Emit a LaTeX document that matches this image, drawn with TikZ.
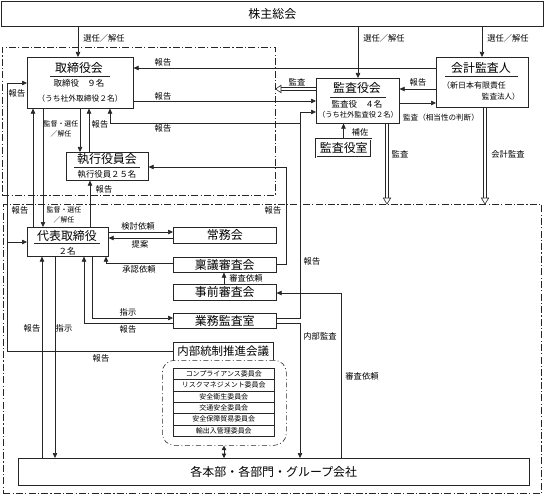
\documentclass[tikz,border=0pt]{standalone}
\usepackage{fontspec}
\setmainfont{Noto Sans CJK JP}
\usetikzlibrary{arrows.meta,calc}
\begin{document}
\begin{tikzpicture}[x=1bp,y=-1bp,
  ln/.style={draw=black!85, line width=0.6bp},
  box/.style={ln, fill=white, inner sep=0, anchor=north west},
  ddbox/.style={draw=black!85, line width=0.6bp, dash pattern=on 7bp off 2.2bp on 1.2bp off 2.2bp, inner sep=0, anchor=north west},
  arr/.style={ln, -{Triangle[length=5bp,width=4.5bp]}},
  darr/.style={ln, {Triangle[length=4.5bp,width=4.5bp]}-{Triangle[length=4.5bp,width=4.5bp]}},
  tipst/.style={ln, fill=white},
  ttl/.style={inner sep=0, font=\fontsize{12}{14}\selectfont},
  sub/.style={inner sep=0, font=\fontsize{8.5}{10}\selectfont},
  lbl/.style={inner sep=0, font=\fontsize{8.3}{10}\selectfont},
  slbl/.style={inner sep=0, align=center, font=\fontsize{7}{10}\selectfont},
  com/.style={box, minimum width=101bp, minimum height=11.33bp, font=\fontsize{7}{8}\selectfont}
]
\useasboundingbox (0,0) rectangle (544,496);

% dash-dot regions
\node[ddbox, minimum width=273bp, minimum height=148bp] (upper) at (2,47) {};
\node[ddbox, minimum width=538bp, minimum height=289bp] (lower) at (3,204) {};

% boxes
\node[box, minimum width=542bp, minimum height=25bp, font=\fontsize{12}{14}\selectfont] (soukai) at (1,1) {株主総会};
\node[box, minimum width=106bp, minimum height=51bp] (tb) at (27,57) {};
\node[ttl] (tbT) at (79,68) {取締役会};
\draw[ln] (50,76) -- (110,76);
\node[sub] (tbS1) at (79,83) {取締役　９名};
\node[inner sep=0, font=\fontsize{7.8}{9}\selectfont] (tbS2) at (80,99) {（うち社外取締役２名）};

\node[box, minimum width=82bp, minimum height=28bp] (sk) at (66,152) {};
\node[ttl] (skT) at (107,159) {執行役員会};
\draw[ln] (74,167.5) -- (140,167.5);
\node[inner sep=0, font=\fontsize{8.4}{10}\selectfont] (skS) at (107,174) {執行役員２５名};

\node[box, minimum width=83bp, minimum height=45bp] (kb) at (316,78) {};
\node[ttl] (kbT) at (357,88) {監査役会};
\draw[ln] (330,97) -- (386,97);
\node[sub] (kbS1) at (357,104) {監査役　４名};
\node[inner sep=0, font=\fontsize{7.3}{9}\selectfont] (kbS2) at (358,115) {（うち社外監査役２名）};

\node[box, minimum width=92bp, minimum height=50bp] (ka) at (436,57) {};
\node[ttl] (kaT) at (481,68) {会計監査人};
\draw[ln] (445,76) -- (518,76);
\node[inner sep=0, anchor=west, font=\fontsize{8}{9}\selectfont] (kaS1) at (442,85) {（新日本有限責任};
\node[inner sep=0, anchor=east, font=\fontsize{7.6}{9}\selectfont] (kaS2) at (520,97) {監査法人）};

\node[box, minimum width=55bp, minimum height=18bp, double=white, double distance=0.8bp, line width=0.5bp, font=\fontsize{12}{14}\selectfont] (ks) at (316,139) {監査役室};

\node[box, minimum width=81bp, minimum height=29bp] (dh) at (27,227) {};
\node[ttl] (dhT) at (67,236) {代表取締役};
\draw[ln] (34,243) -- (100,243);
\node[sub] (dhS) at (67,251) {２名};

\node[box, minimum width=103bp, minimum height=16bp, font=\fontsize{12}{14}\selectfont] (jm) at (173,227) {常務会};
\node[box, minimum width=103bp, minimum height=15bp, font=\fontsize{12}{14}\selectfont] (rg) at (173,257) {稟議審査会};
\node[box, minimum width=103bp, minimum height=16bp, font=\fontsize{12}{14}\selectfont] (jz) at (173,284) {事前審査会};
\node[box, minimum width=103bp, minimum height=15bp, font=\fontsize{12}{14}\selectfont] (gm) at (173,313) {業務監査室};

% internal control group
\node[draw=black!85, line width=0.6bp, dash pattern=on 5bp off 2.5bp on 1bp off 2.5bp, rounded corners=12bp, inner sep=0, anchor=north west, minimum width=124bp, minimum height=85bp] (rr) at (162,360) {};
\node[inner sep=0, anchor=north west, minimum width=100bp, minimum height=18bp, font=\fontsize{11.5}{13}\selectfont] (nb) at (173,342) {内部統制推進会議};
\draw[ln] (nb.south west) -- (nb.north west) -- (nb.north east) -- (nb.south east);
\node[com] (c1) at (173,368) {コンプライアンス委員会};
\node[com] (c2) at (173,379.33) {リスクマネジメント委員会};
\node[com] (c3) at (173,390.67) {安全衛生委員会};
\node[com] (c4) at (173,402) {交通安全委員会};
\node[com] (c5) at (173,413.33) {安全保障貿易委員会};
\node[com] (c6) at (173,424.67) {輸出入管理委員会};

\node[box, minimum width=511bp, minimum height=27bp, font=\fontsize{12}{14}\selectfont] (hb) at (18,458) {各本部・各部門・グループ会社};

% ---- connectors ----
% shareholders
\draw[arr] (78,0 |- soukai.south) -- (78,0 |- tb.north);
\node[lbl] (l1) at (104,38) {選任／解任};
\draw[arr] (358,0 |- soukai.south) -- (358,0 |- kb.north);
\node[lbl] (l2) at (384,38) {選任／解任};
\draw[arr] (482,0 |- soukai.south) -- (482,0 |- ka.north);
\node[lbl] (l3) at (508,38) {選任／解任};

% accounting auditor -> board
\draw[arr] (ka.west |- 0,68) -- (tb.east |- 0,68);
\node[lbl] (l4) at (163,62) {報告};
% board -> auditors
\draw[arr] (tb.east |- 0,101) -- (kb.west |- 0,101);
\node[lbl] (l5) at (163,96) {報告};
% internal audit office report upward
\coordinate (j1) at (300,123);
\draw[arr] (gm.east |- 0,318) -- (300,318) -- (300,112) -- (kb.west |- 0,112);
\draw[arr] (j1) -- (110,123) -- (110,0 |- tb.south);
\node[lbl] (l6) at (163,128) {報告};
\node[lbl] (l7) at (312,261) {報告};

% board <-> executive officers
\draw[arr] (80,0 |- tb.south) -- (80,0 |- sk.north);
\node[slbl] (l8) at (61,129) {監督・選任\\／解任};
\draw[arr] (89,0 |- sk.north) -- (89,0 |- tb.south);
\node[lbl] (l9) at (100,124) {報告};

% ringi -> executive officers
\draw[arr] (rg.east |- 0,264) -- (286,264) -- (286,167) -- (sk.east |- 0,167);
\node[lbl] (l10) at (273,210) {報告};
% representative -> executive officers
\draw[arr] (90,0 |- dh.north) -- (90,0 |- sk.south);
\node[lbl] (l11) at (104,189) {報告};
% representative <-> board
\draw[arr] (33,0 |- dh.north) -- (33,0 |- tb.south);
\node[lbl] (l12) at (20,210) {報告};
\draw[arr] (43,0 |- tb.south) -- (43,0 |- dh.north);
\node[slbl] (l13) at (64,215) {監督・選任\\／解任};

% internal control promotion -> board / representative
\coordinate (j2) at (7,242);
\draw[arr] (nb.west) -- (7,0 |- nb.west) -- (7,83) -- (tb.west |- 0,83);
\draw[arr] (j2) -- (dh.west |- 0,242);
\node[lbl] (l14) at (17,93) {報告};
\node[lbl] (l15) at (101,358) {報告};

% audit (hollow) to board region
\draw[ln] (kb.west |- 0,87.7) -- (281,87.7);
\draw[ln] (kb.west |- 0,90.3) -- (281,90.3);
\draw[tipst] (upper.east |- 0,89) -- (281,85.3) -- (281,92.7) -- cycle;
\node[lbl] (l16) at (297,82) {監査};
% accounting auditor <-> auditors
\draw[arr] (ka.west |- 0,89) -- (kb.east |- 0,89);
\node[lbl] (l17) at (418,82) {報告};
\draw[arr] (kb.east |- 0,103) -- (ka.west |- 0,103);
\node[inner sep=0, font=\fontsize{7.6}{9}\selectfont] (l18) at (441,118) {監査（相当性の判断）};
% audit office -> auditors
\draw[arr] (343.5,0 |- ks.north) -- (343.5,0 |- kb.south);
\node[lbl] (l19) at (360,132) {補佐};
% hollow audits downward
\draw[ln] (385.7,0 |- kb.south) -- (385.7,198);
\draw[ln] (388.3,0 |- kb.south) -- (388.3,198);
\draw[tipst] (387,0 |- lower.north) -- (383.3,198) -- (390.7,198) -- cycle;
\node[lbl] (l20) at (400,154) {監査};
\draw[ln] (483.7,0 |- ka.south) -- (483.7,198);
\draw[ln] (486.3,0 |- ka.south) -- (486.3,198);
\draw[tipst] (485,0 |- lower.north) -- (481.3,198) -- (488.7,198) -- cycle;
\node[lbl] (l21) at (508,154) {会計監査};

% representative <-> managing committee
\draw[arr] (dh.east |- 0,232) -- (jm.west |- 0,232);
\node[lbl] (l22) at (138,226) {検討依頼};
\draw[arr] (jm.west |- 0,238) -- (dh.east |- 0,238);
\node[lbl] (l23) at (140,244) {提案};
% ringi -> representative
\draw[arr] (rg.west |- 0,263) -- (106,263) -- (106,0 |- dh.south);
\node[lbl] (l24) at (139,269) {承認依頼};
% pre-review -> ringi
\draw[arr] (224,0 |- jz.north) -- (224,0 |- rg.south);
\node[lbl] (l25) at (246,278) {審査依頼};
% representative <-> internal audit office
\draw[arr] (92,0 |- dh.south) -- (92,318) -- (gm.west |- 0,318);
\node[lbl] (l26) at (128,312) {指示};
\draw[arr] (gm.west |- 0,323) -- (84,323) -- (84,0 |- dh.south);
\node[lbl] (l27) at (128,329) {報告};
% representative <-> divisions
\draw[arr] (42,0 |- hb.north) -- (42,0 |- dh.south);
\node[lbl] (l28) at (32,328) {報告};
\draw[arr] (55,0 |- dh.south) -- (55,0 |- hb.north);
\node[lbl] (l29) at (64,328) {指示};
% internal audit
\draw[arr] (gm.east |- 0,323) -- (300,323) -- (300,0 |- hb.north);
\node[lbl] (l30) at (320,336) {内部監査};
% review request
\draw[arr] (341,0 |- hb.north) -- (341,293) -- (jz.east |- 0,293);
\node[lbl] (l31) at (362,376) {審査依頼};
% committees <-> divisions
\draw[darr] (224,0 |- rr.south) -- (224,0 |- hb.north);
\end{tikzpicture}
\end{document}
